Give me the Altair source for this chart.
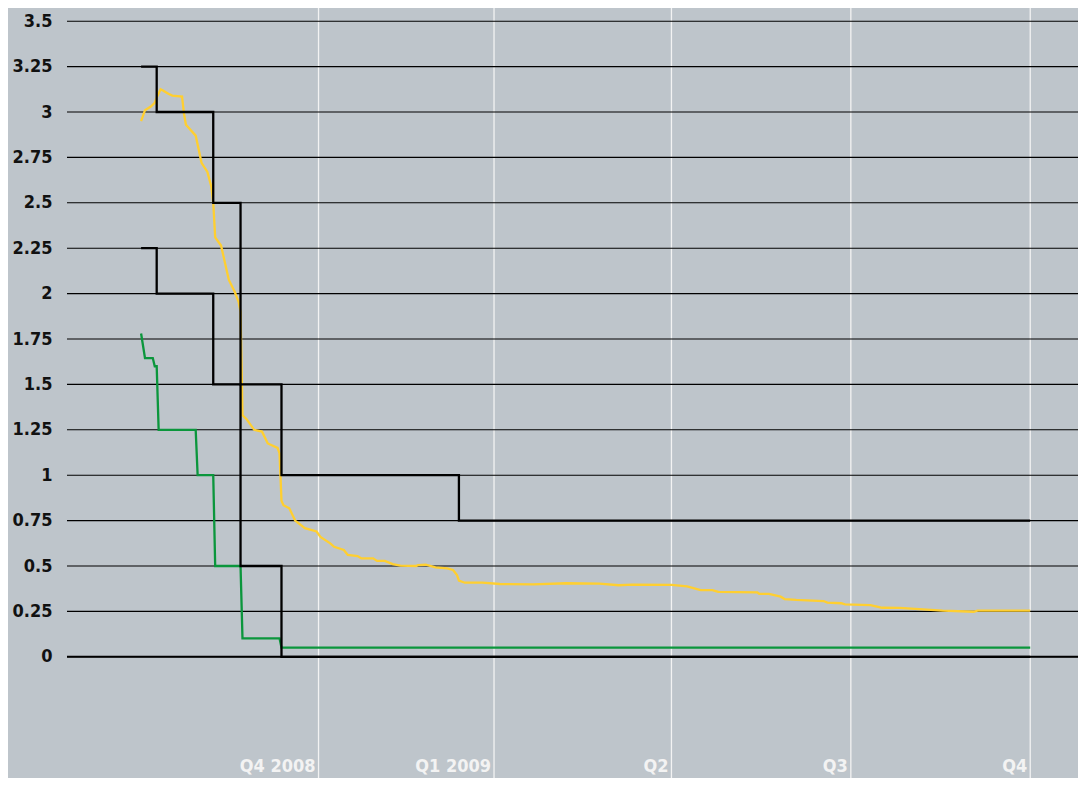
import altair as alt
import pandas as pd

START = "2008-10-01"

# quarter boundaries (vertical white lines) and their labels
quarter_end_dates = ["2008-12-31", "2009-03-31", "2009-06-30", "2009-09-30", "2009-12-31"]
quarter_labels = ["Q4 2008", "Q1 2009", "Q2", "Q3", "Q4"]

# y tick values
y_ticks = [0, 0.25, 0.5, 0.75, 1, 1.25, 1.5, 1.75, 2, 2.25, 2.5, 2.75, 3, 3.25, 3.5]

# upper bound of target range (step)
upper_dates = ["2008-10-01", "2008-10-09", "2008-11-07", "2008-11-21", "2008-12-12", "2009-03-13", "2009-12-31"]
upper_values = [3.25, 3.0, 2.5, 1.5, 1.0, 0.75, 0.75]

# lower bound of target range (step)
lower_dates = ["2008-10-01", "2008-10-09", "2008-11-07", "2008-11-21", "2008-12-12", "2009-12-31"]
lower_values = [2.25, 2.0, 1.5, 0.5, 0.0, 0.0]

# green series
green_dates = ["2008-10-01", "2008-10-03", "2008-10-07", "2008-10-08", "2008-10-09", "2008-10-10",
               "2008-10-29", "2008-10-30", "2008-11-07", "2008-11-08", "2008-11-21", "2008-11-22",
               "2008-12-11", "2008-12-12", "2009-12-31"]
green_values = [1.78, 1.645, 1.645, 1.60, 1.60, 1.25,
                1.25, 1.0, 1.0, 0.5, 0.5, 0.102,
                0.102, 0.05, 0.05]

# yellow series
libor_dates = ["2008-10-01", "2008-10-03", "2008-10-06", "2008-10-08", "2008-10-09", "2008-10-11",
               "2008-10-12", "2008-10-15", "2008-10-17", "2008-10-22", "2008-10-23", "2008-10-24",
               "2008-10-29", "2008-11-01", "2008-11-04", "2008-11-06", "2008-11-07", "2008-11-08",
               "2008-11-11", "2008-11-15", "2008-11-18", "2008-11-20", "2008-11-21", "2008-11-22",
               "2008-11-24", "2008-11-28", "2008-12-02", "2008-12-05", "2008-12-10", "2008-12-11",
               "2008-12-12", "2008-12-13", "2008-12-16", "2008-12-19", "2008-12-24", "2008-12-30",
               "2009-01-01", "2009-01-06", "2009-01-08", "2009-01-13", "2009-01-15", "2009-01-20",
               "2009-01-22", "2009-01-28", "2009-01-30", "2009-02-03", "2009-02-07", "2009-02-11",
               "2009-02-19", "2009-02-20", "2009-02-24", "2009-03-01", "2009-03-07", "2009-03-10",
               "2009-03-12", "2009-03-13", "2009-03-16", "2009-03-25", "2009-04-03", "2009-04-20",
               "2009-05-07", "2009-05-24", "2009-06-03", "2009-06-10", "2009-06-30", "2009-07-08",
               "2009-07-15", "2009-07-21", "2009-07-24", "2009-08-13", "2009-08-14", "2009-08-19",
               "2009-08-25", "2009-08-27", "2009-09-02", "2009-09-16", "2009-09-18", "2009-09-25",
               "2009-09-27", "2009-10-10", "2009-10-14", "2009-10-16", "2009-10-25", "2009-11-04",
               "2009-11-16", "2009-12-02", "2009-12-04", "2009-12-31"]
libor_values = [2.95, 3.01, 3.03, 3.05, 3.08, 3.125,
                3.12, 3.10, 3.09, 3.085, 2.99, 2.93,
                2.87, 2.72, 2.67, 2.59, 2.50, 2.31,
                2.265, 2.075, 2.01, 1.955, 1.90, 1.33,
                1.31, 1.25, 1.24, 1.175, 1.15, 1.12,
                0.86, 0.835, 0.818, 0.75, 0.708, 0.69,
                0.66, 0.625, 0.606, 0.588, 0.561, 0.555,
                0.542, 0.542, 0.528, 0.528, 0.51, 0.502,
                0.50, 0.505, 0.507, 0.493, 0.487, 0.478,
                0.45, 0.42, 0.408, 0.408, 0.401, 0.399,
                0.405, 0.403, 0.394, 0.397, 0.396, 0.388,
                0.367, 0.367, 0.358, 0.355, 0.347, 0.347,
                0.331, 0.318, 0.313, 0.307, 0.298, 0.295,
                0.289, 0.285, 0.275, 0.27, 0.269, 0.262,
                0.254, 0.248, 0.254, 0.254]


def to_days(dates):
    return [(pd.Timestamp(d) - pd.Timestamp(START)).days for d in dates]


def frame(dates, values):
    return pd.DataFrame({"day": to_days(dates), "value": values})


BG = "#bec5cb"
FONT = "DejaVu Sans Condensed, Liberation Sans Narrow, DejaVu Sans"

xscale = alt.Scale(domain=[-38.0, 480.5], nice=False, zero=False)
yscale = alt.Scale(domain=[-0.6674, 3.5727], nice=False, zero=False)

X = lambda: alt.X("day:Q", scale=xscale, axis=None)

quarters = pd.DataFrame({"day": to_days(quarter_end_dates), "label": quarter_labels})
ticks_df = pd.DataFrame({"value": y_ticks})

vlines = alt.Chart(quarters).mark_rule(color="#f3f3f3", strokeWidth=1.3).encode(x=X())

hgrid = alt.Chart(ticks_df).mark_rule(color="#000000", strokeWidth=1.1).encode(
    y=alt.Y("value:Q", scale=yscale,
            axis=alt.Axis(values=y_ticks, labelExpr="datum.value + ''", grid=False, ticks=False,
                          domain=False, labelFontSize=18, labelFontWeight="bold",
                          labelColor="#111111", labelFont=FONT, labelPadding=15, title=None))
)

zero_rule = alt.Chart(pd.DataFrame({"value": [0]})).mark_rule(color="#000000", strokeWidth=2).encode(
    y=alt.Y("value:Q", scale=yscale)
)


def step_line(df, color):
    return alt.Chart(df).mark_line(interpolate="step-after", color=color, strokeWidth=2.3,
                                   strokeJoin="miter").encode(
        x=X(), y=alt.Y("value:Q", scale=yscale))


def plain_line(df, color):
    return alt.Chart(df).mark_line(color=color, strokeWidth=2.3).encode(
        x=X(), y=alt.Y("value:Q", scale=yscale))


upper = step_line(frame(upper_dates, upper_values), "#000000")
lower = step_line(frame(lower_dates, lower_values), "#000000")
green = plain_line(frame(green_dates, green_values), "#0b963c")
libor = plain_line(frame(libor_dates, libor_values), "#ffcf30")

labels = alt.Chart(quarters).mark_text(
    align="right", baseline="alphabetic", dx=-3, fontSize=18, fontWeight="bold",
    color="#f3f3f3", font=FONT
).encode(x=X(), y=alt.value(764), text="label:N")

chart = alt.layer(vlines, hgrid, zero_rule, green, libor, lower, upper, labels).properties(
    width=1011, height=770,
    autosize=alt.AutoSizeParams(type="none"),
    padding={"left": 59, "top": 0, "right": 0, "bottom": 0},
    background=BG,
).configure_view(stroke=None, fill=BG)

chart.save("out.html", embed_options={"renderer": "svg", "actions": False})
